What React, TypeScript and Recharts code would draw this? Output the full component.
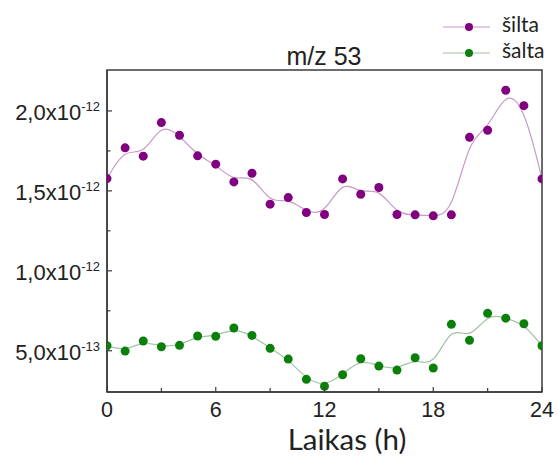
import React from 'react';
import { ComposedChart, Line, XAxis, YAxis, Legend, Customized, ReferenceArea } from 'recharts';

const hours = [0, 1, 2, 3, 4, 5, 6, 7, 8, 9, 10, 11, 12, 13, 14, 15, 16, 17, 18, 19, 20, 21, 22, 23, 24];
const siltaValues = [
  1.577e-12, 1.769e-12, 1.717e-12, 1.927e-12, 1.848e-12, 1.719e-12, 1.667e-12, 1.556e-12, 1.61e-12,
  1.417e-12, 1.458e-12, 1.365e-12, 1.352e-12, 1.575e-12, 1.479e-12, 1.521e-12, 1.352e-12, 1.35e-12,
  1.344e-12, 1.35e-12, 1.835e-12, 1.879e-12, 2.129e-12, 2.033e-12, 1.575e-12,
];
const saltaValues = [
  0.531e-12, 0.498e-12, 0.561e-12, 0.525e-12, 0.534e-12, 0.592e-12, 0.59e-12, 0.642e-12, 0.596e-12,
  0.515e-12, 0.448e-12, 0.321e-12, 0.278e-12, 0.35e-12, 0.45e-12, 0.404e-12, 0.379e-12, 0.456e-12,
  0.392e-12, 0.665e-12, 0.565e-12, 0.734e-12, 0.704e-12, 0.669e-12, 0.531e-12,
];
const seriesNames = ['šilta', 'šalta'];
const xTicks = [0, 3, 6, 9, 12, 15, 18, 21, 24];
const xTickLabels = ['0', '', '6', '', '12', '', '18', '', '24'];
const yTicks = [5e-13, 7.5e-13, 1e-12, 1.25e-12, 1.5e-12, 1.75e-12, 2e-12];
const yTickMantissa = ['5,0', '', '1,0', '', '1,5', '', '2,0'];
const yTickExponent = ['-13', '', '-12', '', '-12', '', '-12'];
const titleText = 'm/z 53';
const xAxisTitle = 'Laikas (h)';
const xDomain = [0, 24];
const yDomain = [0.242e-12, 2.256e-12];

const dotColors = ['#800080', '#0a800a'];
const lineColors = ['#c89ac8', '#a3c2a3'];
const axisColor = '#3c3c3c';
const tickFont = '"Liberation Sans", Arial, sans-serif';
const labelFont = 'Lato, "Open Sans", sans-serif';

const data = hours.map((h, i) => ({ h, silta: siltaValues[i], salta: saltaValues[i] }));

const YTick = (props: any) => {
  const { x, y, payload } = props;
  const i = yTicks.indexOf(payload.value);
  const major = i >= 0 && yTickMantissa[i] !== '';
  return (
    <g>
      <line x1={x} x2={x + (major ? 5 : 3.5)} y1={y} y2={y} stroke={axisColor} strokeWidth={1.2} />
      {major && (
        <text x={100} y={y + 9.5} textAnchor="end" fontFamily={tickFont} fontSize={22} fill="#222">
          {yTickMantissa[i]}x10
          <tspan dy={-9} fontSize={13}>{yTickExponent[i]}</tspan>
        </text>
      )}
    </g>
  );
};

const XTick = (props: any) => {
  const { x, y, payload } = props;
  const i = xTicks.indexOf(payload.value);
  const label = i >= 0 ? xTickLabels[i] : '';
  const major = label !== '';
  return (
    <g>
      <line x1={x} x2={x} y1={y} y2={y - (major ? 5 : 4)} stroke={axisColor} strokeWidth={1.2} />
      {major && (
        <text x={x} y={y + 24.5} textAnchor="middle" fontFamily={tickFont} fontSize={21.5} fill="#222">
          {label}
        </text>
      )}
    </g>
  );
};

const Titles = () => (
  <g>
    <text x={324} y={65} textAnchor="middle" fontFamily={tickFont} fontSize={25} fill="#222">
      {titleText}
    </text>
    <text x={347} y={450} textAnchor="middle" fontFamily={labelFont} fontSize={29.5} fill="#222">
      {xAxisTitle}
    </text>
  </g>
);

const LegendContent = () => (
  <svg width={118} height={66}>
    {seriesNames.map((name, i) => {
      const cy = 27 + i * 26;
      return (
        <g key={name}>
          <line x1={3} x2={50} y1={cy} y2={cy} stroke={lineColors[i]} strokeWidth={1.2} />
          <circle cx={29} cy={cy} r={4} fill={dotColors[i]} />
          <text x={62} y={cy + 5} fontFamily={labelFont} fontSize={21} fill="#222">
            {name}
          </text>
        </g>
      );
    })}
  </svg>
);

export default function App() {
  return (
    <div style={{ position: 'absolute', left: 0, top: 0, width: 558, height: 456, background: '#fff' }}>
      <ComposedChart width={558} height={456} data={data} margin={{ top: 70, right: 16, bottom: 0, left: 0 }}>
        <XAxis
          dataKey="h"
          type="number"
          domain={xDomain}
          ticks={xTicks}
          interval={0}
          allowDataOverflow
          height={64}
          tickSize={0}
          tickMargin={0}
          tickLine={false}
          axisLine={{ stroke: axisColor, strokeWidth: 1.5 }}
          tick={<XTick />}
        />
        <YAxis
          type="number"
          domain={yDomain}
          ticks={yTicks}
          interval={0}
          allowDataOverflow
          width={107}
          tickSize={0}
          tickMargin={0}
          tickLine={false}
          axisLine={{ stroke: axisColor, strokeWidth: 1.5 }}
          tick={<YTick />}
        />
        <ReferenceArea
          x1={xDomain[0]}
          x2={xDomain[1]}
          y1={yDomain[0]}
          y2={yDomain[1]}
          fill="none"
          fillOpacity={0}
          stroke={axisColor}
          strokeWidth={1.5}
          ifOverflow="visible"
        />
        <Legend
          layout="horizontal"
          verticalAlign="middle"
          align="center"
          content={<LegendContent />}
          wrapperStyle={{ position: 'absolute', left: 440, top: 0, width: 118, height: 66 }}
        />
        <Line type="basis" dataKey="silta" stroke={lineColors[0]} strokeWidth={1.2} dot={false} activeDot={false} legendType="none" isAnimationActive={false} />
        <Line type="basis" dataKey="salta" stroke={lineColors[1]} strokeWidth={1.2} dot={false} activeDot={false} legendType="none" isAnimationActive={false} />
        <Line type="linear" dataKey="silta" name={seriesNames[0]} stroke="none" dot={{ r: 4.5, fill: dotColors[0], stroke: 'none' }} activeDot={false} isAnimationActive={false} />
        <Line type="linear" dataKey="salta" name={seriesNames[1]} stroke="none" dot={{ r: 4.5, fill: dotColors[1], stroke: 'none' }} activeDot={false} isAnimationActive={false} />
        <Customized component={<Titles />} />
      </ComposedChart>
    </div>
  );
}
